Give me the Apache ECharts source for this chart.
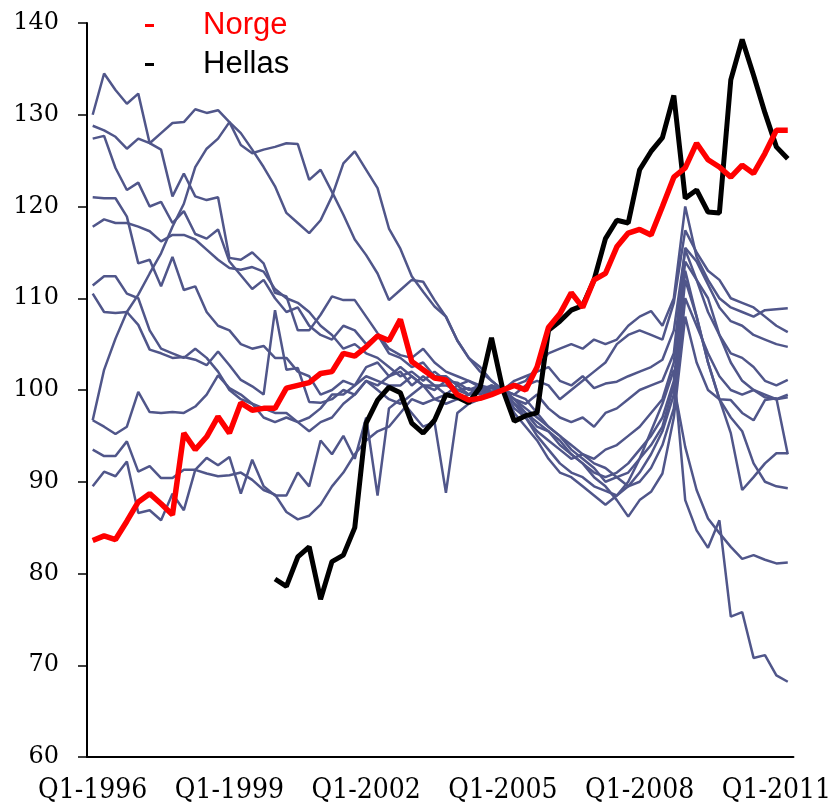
<!DOCTYPE html>
<html>
<head>
<meta charset="utf-8">
<script src="https://cdn.jsdelivr.net/npm/echarts@6/dist/echarts.min.js"></script>
<style>
  html, body { margin: 0; padding: 0; background: #fff; }
  #chart { width: 834px; height: 806px; }
</style>
</head>
<body>
<div id="chart"></div>
<script>
// kvartaler Q1-1996 .. Q2-2011
const years = [1996, 1997, 1998, 1999, 2000, 2001, 2002, 2003, 2004, 2005, 2006, 2007, 2008, 2009, 2010, 2011];
const quarters = ['Q1', 'Q2', 'Q3', 'Q4'];
const nQuarters = 62;

const norge = [83.6, 84.1, 83.7, 85.7, 87.8, 88.7, 87.6, 86.4, 95.3, 93.5,
  94.9, 97.1, 95.3, 98.6, 97.8, 98.0, 98.0, 100.2, 100.5, 100.8,
  101.8, 102.0, 104.0, 103.7, 104.7, 105.9, 105.4, 107.7, 103.1, 102.2,
  101.3, 101.1, 99.5, 98.9, 99.1, 99.5, 100, 100.5, 100.0, 102.5,
  106.8, 108.3, 110.6, 109.0, 112.0, 112.7, 115.6, 117.1, 117.5, 116.9,
  120.0, 123.2, 124.2, 126.9, 125.1, 124.3, 123.2, 124.5, 123.6, 125.8,
  128.3, 128.3];

const hellas = [null, null, null, null, null, null, null, null, null, null,
  null, null, null, null, null, null, 79.4, 78.6, 81.8, 82.9,
  77.2, 81.3, 82.0, 85.0, 96.4, 98.9, 100.3, 99.7, 96.4, 95.3,
  96.7, 99.5, 99.2, 98.6, 100.3, 105.7, 100.0, 96.6, 97.2, 97.5,
  106.5, 107.5, 108.7, 109.2, 112.0, 116.5, 118.5, 118.2, 124.0, 126.0,
  127.5, 132.1, 120.9, 121.8, 119.4, 119.3, 133.8, 138.2, 134.3, 130.2,
  126.5, 125.2];

// de andre landene
const land1 = [130.0, 134.5, 132.7, 131.2, 132.3, 126.9, 126.2, 121.1, 123.6, 121.1,
  120.7, 121.0, 114.4, 114.2, 115.0, 113.8, 110.6, 110.2, 106.5, 106.5,
  108.2, 110.2, 109.8, 109.8, 108.0, 106.2, 104.5, 103.8, 103.5, 104.5,
  103.0, 102.0, 101.5, 101.0, 100.5, 100.2, 100,
  101.0, 101.5, 102.0, 102.5, 101.0, 100.5, 101.5, 100.2, 100.7, 100.9,
  101.5, 102.0, 102.5, 103.3, 106.5, 115.3, 112.0, 108.5, 106.0, 104.0,
  103.5, 102.5, 101.0, 100.5, 101.1];
const land2 = [128.8, 128.3, 127.6, 126.3, 127.4, 126.9, 128.0, 129.1, 129.2, 130.6,
  130.2, 130.5, 129.2, 126.7, 125.8, 126.2, 126.5, 126.9, 126.8, 122.9,
  124.0, 121.6, 119.1, 116.4, 114.7, 112.7, 109.8, 110.9, 112.0, 111.8,
  109.8, 108.0, 105.4, 103.5, 102.0, 101.0, 100,
  100.5, 101.0, 102.5, 104.0, 104.5, 105.0, 104.5, 105.5, 105.0, 105.5,
  107.0, 108.0, 108.6, 107.0, 110.0, 120.0, 114.5, 112.0, 110.0, 109.0,
  108.5, 108.0, 108.7, 108.8, 108.9];
const land3 = [127.4, 127.7, 124.2, 121.8, 122.6, 120.0, 120.5, 118.2, 119.5, 117.0,
  116.5, 117.5, 114.0, 112.5, 111.0, 112.0, 110.0, 108.5, 109.0, 107.0,
  106.0, 105.5, 107.0, 106.5, 105.0, 106.0, 104.0, 103.5, 102.5, 103.0,
  101.5, 101.5, 100.5, 101.0, 100.3, 99.8, 100,
  99.5, 100.5, 101.0, 100.5, 99.0, 100.0, 101.0, 102.0, 103.0, 105.0,
  106.0, 106.5, 106.0, 105.5, 109.5, 117.4, 115.0, 113.0, 112.0, 110.0,
  109.5, 109.0, 108.0, 107.0, 106.3];
const land4 = [121.0, 120.9, 120.9, 118.9, 113.8, 114.2, 111.3, 114.5, 110.9, 111.3,
  108.5, 107.0, 106.5, 105.0, 104.5, 104.8, 103.5, 103.5, 102.0, 101.5,
  99.5, 100.0, 101.0, 100.5, 102.5, 103.0, 101.5, 102.0, 100.5, 101.5,
  100.5, 100.5, 100.0, 100.2, 99.5, 100.3, 100,
  99.0, 98.5, 99.5, 98.0, 97.0, 96.5, 97.0, 96.0, 97.5, 98.0,
  99.0, 100.0, 100.5, 101.0, 104.0, 115.5, 114.0, 111.5, 109.0, 107.5,
  107.0, 106.0, 105.5, 105.0, 104.7];
const land5 = [117.8, 118.6, 118.2, 118.2, 117.8, 117.3, 116.2, 116.9, 116.9, 116.4,
  115.3, 114.2, 113.3, 113.1, 113.4, 112.9, 111.0, 110.0, 109.5, 108.5,
  107.0, 106.0, 104.5, 105.0, 104.0, 103.5, 102.5, 101.5, 102.0, 101.0,
  102.0, 101.0, 100.8, 100.0, 100.5, 99.5, 100,
  99.0, 98.0, 97.0, 96.0, 95.0, 94.0, 93.0, 92.5, 93.5, 94.0,
  95.0, 96.0, 97.5, 99.0, 103.0, 114.0, 112.0, 110.0, 106.0, 103.0,
  101.0, 100.0, 99.2, 99.0, 99.5];
const land6 = [111.4, 112.4, 112.4, 110.5, 110.0, 106.5, 104.5, 104.0, 103.5, 104.5,
  103.5, 102.0, 100.0, 99.0, 98.5, 98.0, 97.5, 97.5, 96.5, 97.0,
  98.0, 99.5, 99.5, 100.5, 101.5, 101.0, 100.5, 100.5, 101.5, 100.5,
  100.5, 99.5, 99.0, 99.5, 99.8, 100.2, 100,
  98.5, 97.5, 96.0, 95.5, 94.5, 93.0, 92.0, 91.0, 90.5, 91.0,
  92.0, 93.5, 95.0, 97.0, 101.0, 113.0, 108.0, 103.0, 99.0, 95.3,
  89.1, 90.5, 92.0, 93.1, 93.1];
const land7 = [110.5, 108.5, 108.4, 108.5, 107.1, 104.4, 104.0, 103.5, 103.6, 103.3,
  102.7, 104.2, 102.7, 101.1, 100.4, 99.5, 108.7, 102.2, 102.4, 98.7,
  98.6, 99.0, 100.0, 99.5, 101.0, 100.0, 99.0, 98.5, 99.5, 100.5,
  99.0, 98.5, 99.0, 99.5, 100.0, 99.5, 100,
  98.0, 97.0, 95.0, 93.5, 92.0, 91.0, 90.5, 89.5, 89.0, 88.5,
  89.5, 91.0, 93.0, 95.5, 99.5, 112.0, 108.0, 103.0, 99.0, 97.0,
  95.5, 92.0, 90.0, 89.5, 89.3];
const land8 = [96.7, 102.2, 105.6, 108.5, 110.4, 112.7, 114.9, 117.8, 120.3, 124.3,
  126.3, 127.4, 129.2, 128.0, 126.2, 124.3, 122.2, 119.3, 118.2, 117.1,
  118.5, 121.1, 124.7, 126.0, 124.0, 122.0, 117.6, 115.4, 112.4, 110.7,
  109.1, 108.0, 105.4, 103.5, 102.5, 101.0, 100,
  99.5, 99.0, 97.5, 96.0, 95.0, 93.5, 92.5, 91.5, 90.0, 90.5,
  89.5, 90.0, 91.5, 94.0, 98.0, 110.0, 107.0, 104.0, 101.5, 100.0,
  99.5, 100.0, 99.5, 99.0, 99.2];
const land9 = [96.7, 96.0, 95.2, 96.0, 99.8, 97.6, 97.5, 97.6, 97.5, 98.2,
  99.5, 101.6, 100.2, 99.5, 98.5, 97.0, 96.5, 97.0, 96.5, 95.5,
  96.5, 97.0, 98.5, 99.5, 101.0, 100.5, 101.5, 102.5, 101.5, 100.5,
  100.0, 101.0, 100.0, 99.5, 100.5, 99.8, 100,
  99.0, 97.5, 96.5, 95.5, 94.0, 93.0, 92.0, 90.5, 89.5, 88.0,
  86.2, 88.0, 88.9, 90.9, 97.0, 108.0, 103.0, 100.0, 99.0, 98.9,
  97.5, 96.7, 98.9, 99.1, 93.0];
const land10 = [93.5, 92.8, 92.8, 94.4, 91.1, 91.7, 90.4, 90.4, 91.3, 91.3,
  90.9, 90.6, 90.7, 91.0, 90.2, 89.1, 88.6, 86.7, 85.9, 86.3,
  87.5, 89.5, 91.0, 93.0, 94.5, 95.5, 96.0, 97.5, 99.0, 98.5,
  99.0, 99.5, 100.5, 99.5, 100.0, 100.5, 100,
  98.5, 97.0, 95.5, 94.5, 93.5, 92.5, 93.0, 92.0, 91.5, 90.5,
  91.0, 92.5, 94.0, 96.0, 100.5, 93.8, 89.1, 86.0, 84.4, 82.9,
  81.6, 82.0, 81.5, 81.1, 81.2];
const land11 = [89.5, 91.1, 90.6, 92.2, 86.6, 86.9, 85.8, 88.7, 86.9, 91.3,
  92.6, 91.8, 92.7, 88.7, 92.4, 89.5, 88.5, 88.5, 91.0, 89.5,
  94.5, 93.0, 95.0, 92.5, 97.0, 88.5, 98.0, 99.0, 97.5, 96.0,
  96.5, 88.8, 97.5, 98.5, 99.0, 100.5, 100,
  97.5, 96.0, 94.5, 92.5, 91.0, 90.5, 89.5, 88.5, 87.5, 88.5,
  90.0, 92.5, 95.5, 98.5, 102.2, 88.0, 84.7, 82.8, 85.8, 75.3,
  75.8, 70.8, 71.1, 68.9, 68.2];

const others = [land1, land2, land3, land4, land5, land6, land7, land8, land9, land10, land11];
const yTicks = [60, 70, 80, 90, 100, 110, 120, 130, 140];

const categories = [];
years.forEach(y => quarters.forEach(q => categories.push(q + '-' + y)));
categories.length = nQuarters;

const grey = '#50568A';
// liten strek foran navnet, med luft opp til teksten
const dashIcon = 'path://M0,0h9v3h-9zM52.9,0h0.1v0.1h-0.1z';

let chart = echarts.init(document.getElementById('chart'));

let series = others.map((d, i) => ({
  name: 'land' + (i + 1),
  type: 'line',
  data: d,
  symbol: 'none',
  silent: true,
  lineStyle: { color: grey, width: 2.5 },
  itemStyle: { color: grey },
  z: 2
}));
series.push({
  name: 'Hellas',
  type: 'line',
  data: hellas,
  symbol: 'none',
  lineStyle: { color: '#000', width: 5 },
  itemStyle: { color: '#000' },
  z: 3
});
series.push({
  name: 'Norge',
  type: 'line',
  data: norge,
  symbol: 'none',
  lineStyle: { color: '#FF0000', width: 5.5 },
  itemStyle: { color: '#FF0000' },
  z: 4
});

chart.setOption({
  animation: false,
  backgroundColor: '#fff',
  grid: { left: 87, right: 39, top: 23, bottom: 49 },
  legend: {
    orient: 'vertical',
    left: 140,
    top: 5,
    itemGap: 8,
    itemWidth: 53,
    itemHeight: 3,
    icon: dashIcon,
    itemStyle: { borderWidth: 0 },
    textStyle: { fontFamily: 'Liberation Sans', fontSize: 31 },
    data: [
      { name: 'Norge', textStyle: { color: '#FF0000' } },
      { name: 'Hellas', textStyle: { color: '#000' } }
    ]
  },
  xAxis: {
    type: 'category',
    data: categories,
    boundaryGap: true,
    axisLine: { lineStyle: { color: '#000', width: 2 } },
    axisTick: { interval: 3, length: 8, lineStyle: { color: '#000', width: 1.5 } },
    axisLabel: {
      interval: 11,
      margin: 20,
      color: '#000',
      fontFamily: 'DejaVu Serif Condensed',
      fontSize: 28
    }
  },
  yAxis: {
    type: 'value',
    min: yTicks[0],
    max: yTicks[yTicks.length - 1],
    interval: 10,
    splitLine: { show: false },
    axisLine: { show: true, lineStyle: { color: '#000', width: 2 } },
    axisTick: { show: true, length: 9, lineStyle: { color: '#000', width: 1.5 } },
    axisLabel: {
      margin: 28,
      color: '#000',
      fontFamily: 'DejaVu Serif',
      fontSize: 24
    }
  },
  series: series
});
window.addEventListener('resize', function () { chart.resize(); });
</script>
</body>
</html>
